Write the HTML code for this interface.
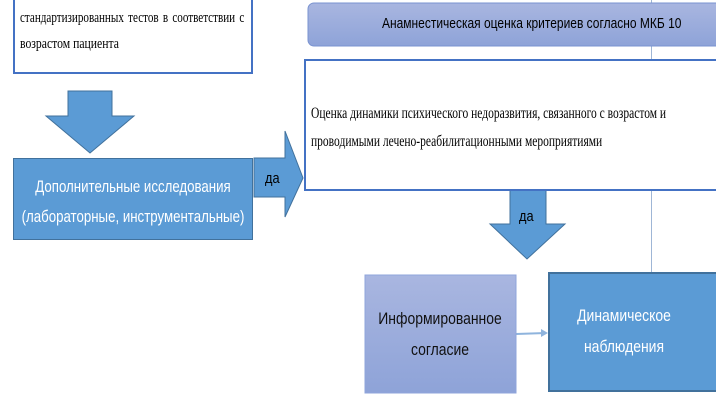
<!DOCTYPE html>
<html><head><meta charset="utf-8"><style>
body{margin:0;width:716px;height:402px;overflow:hidden;background:#fff;position:relative;font-family:"Liberation Sans",sans-serif}
div{position:absolute;box-sizing:border-box}
.serif{font-family:"Liberation Serif",serif}
.t{white-space:nowrap;transform-origin:left top}
.c{white-space:nowrap;transform-origin:center top;width:400px;text-align:center}
</style></head><body>
<div style="left:651px;top:0;width:1px;height:272px;background:#9fb6d6"></div>
<div style="left:13px;top:-2px;width:240px;height:76px;border:2px solid #4472c4;background:#fff"></div>
<div class="serif t" style="left:20px;top:5px;font-size:15px;line-height:27px;word-spacing:2px;transform:scaleX(.74)">стандартизированных тестов в соответствии с</div>
<div class="serif t" style="left:20px;top:31px;font-size:15px;line-height:27px;transform:scaleX(.78)">возрастом пациента</div>
<div style="left:13px;top:158px;width:240px;height:82px;background:#5b9bd5;border:1px solid #41719c"></div>
<div class="c" style="left:-67px;top:172px;color:#fff;font-size:17px;line-height:30px;transform:scaleX(.78)">Дополнительные исследования<br>(лабораторные, инструментальные)</div>
<svg width="716" height="402" style="position:absolute;left:0;top:0">
<polygon points="68,91 112,91 112,116 134,116 90,153 46,116 68,116" fill="#5b9bd5" stroke="#41719c" stroke-width="1"/>
<polygon points="254,158 285,158 285,131 303,178 285,217 285,197 254,197" fill="#5b9bd5" stroke="#41719c" stroke-width="1"/>
<polygon points="510,190 546,190 546,224 565,224 527,259 490,224 510,224" fill="#5b9bd5" stroke="#41719c" stroke-width="1"/>
<line x1="516" y1="334" x2="546" y2="333" stroke="#8fb4dd" stroke-width="2"/>
<polygon points="541,329 548,333 541,337" fill="#8fb4dd"/>
<defs><linearGradient id="g" x1="0" y1="0" x2="0" y2="1"><stop offset="0" stop-color="#a9b6e0"/><stop offset="1" stop-color="#8ea3d8"/></linearGradient></defs>
<rect x="308" y="3" width="420" height="43" rx="6" fill="url(#g)" stroke="#7a93d0"/>
<rect x="365" y="275" width="151" height="118" fill="url(#g)" stroke="#8fa5db"/>
</svg>
<div class="t" style="left:265px;top:170px;font-size:15px;transform:scaleX(.85)">да</div>
<div class="t" style="left:519px;top:208px;font-size:15px;transform:scaleX(.85)">да</div>
<div class="t" style="left:382px;top:15px;font-size:15px;transform:scaleX(.8)">Анамнестическая оценка критериев согласно МКБ 10</div>
<div style="left:304px;top:59px;width:420px;height:132px;border:2px solid #4472c4;border-right:none;background:#fff"></div>
<div class="serif t" style="left:311px;top:100px;font-size:16px;line-height:28px;transform:scaleX(.72)">Оценка динамики психического недоразвития, связанного с возрастом и<br>проводимыми лечено-реабилитационными мероприятиями</div>
<div class="c" style="left:240px;top:303px;font-size:17px;line-height:31px;color:#111;transform:scaleX(.82)">Информированное<br>согласие</div>
<div style="left:548px;top:272px;width:180px;height:120px;background:#5b9bd5;border:2px solid #41719c"></div>
<div class="c" style="left:424px;top:300px;color:#fff;font-size:17px;line-height:31px;transform:scaleX(.82)">Динамическое<br>наблюдения</div>
</body></html>
